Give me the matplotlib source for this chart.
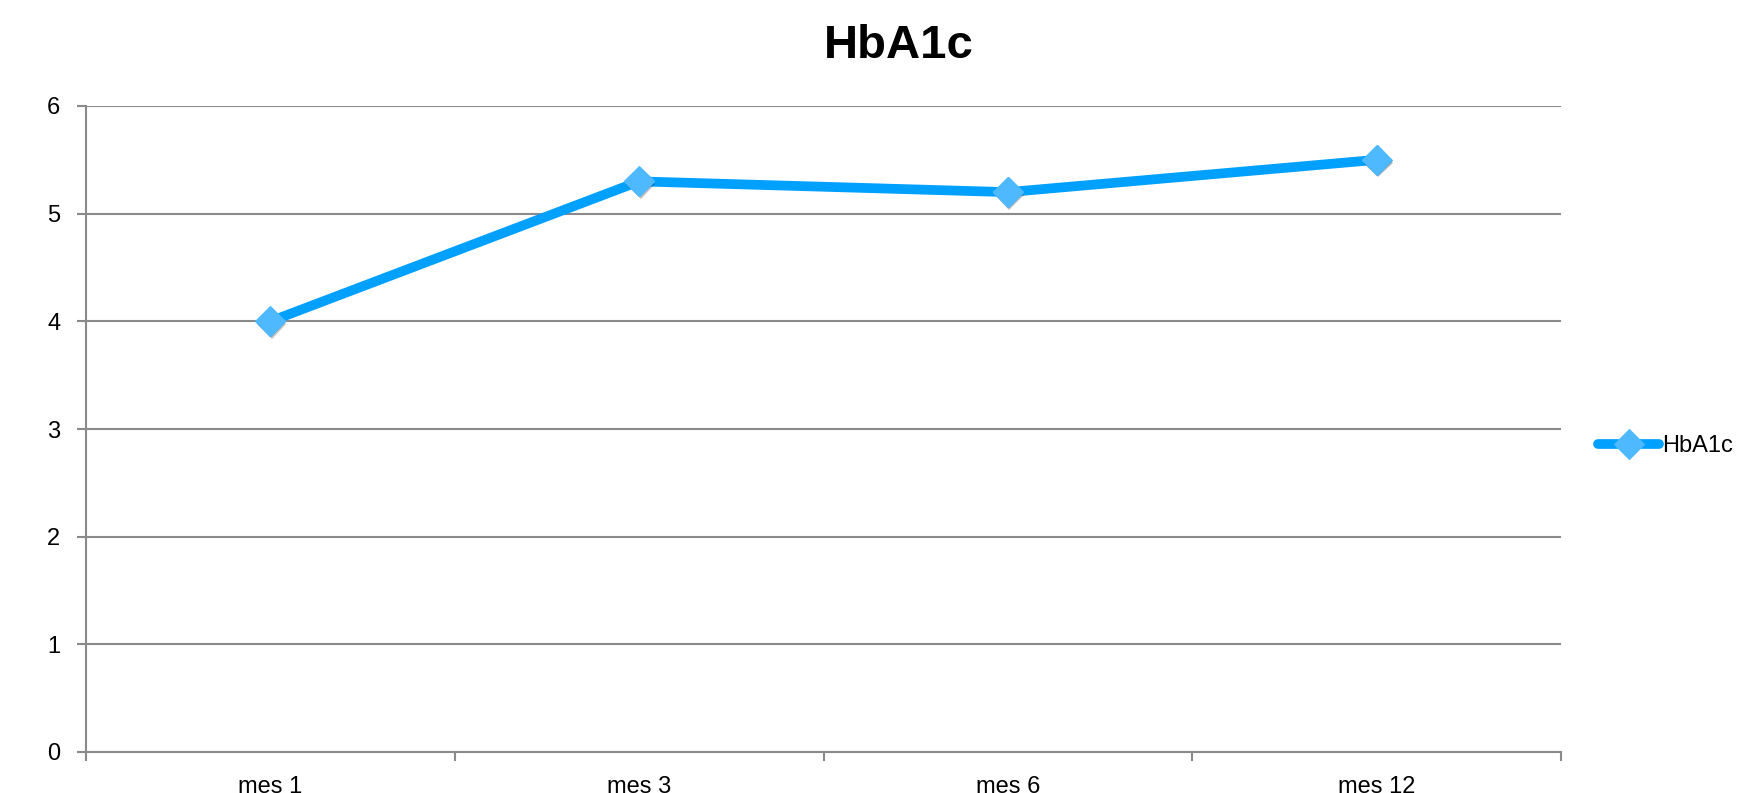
import matplotlib
matplotlib.use("Agg")
import matplotlib.pyplot as plt
import matplotlib.patheffects as pe
from matplotlib.ticker import FixedLocator

categories = ["mes 1", "mes 3", "mes 6", "mes 12"]
hba1c = [4.0, 5.3, 5.2, 5.5]
series_name = "HbA1c"
title = "HbA1c"
yticks = [0, 1, 2, 3, 4, 5, 6]

plt.rcParams['font.family'] = ['Liberation Sans', 'DejaVu Sans']

W, H = 1746, 793
fig = plt.figure(figsize=(W / 100, H / 100), dpi=100)
ax = fig.add_axes([86 / W, 1 - 752 / H, (1561 - 86) / W, (752 - 106) / H])

grid_c = "#8a8a8a"
line_c = "#00a0ff"
marker_c = "#4fb9ff"

x = list(range(len(categories)))
ax.plot(x, hba1c, color=line_c, lw=7, solid_capstyle='round', solid_joinstyle='round',
        marker='D', markersize=15, markerfacecolor=marker_c, markeredgecolor=marker_c,
        markeredgewidth=0.8, label=series_name, zorder=3)
# marker shadow
ax.plot(x, hba1c, ls='none', marker='D', markersize=15, markerfacecolor=marker_c,
        markeredgecolor=marker_c, zorder=4,
        path_effects=[pe.SimplePatchShadow(offset=(1, -2), alpha=0.25, shadow_rgbFace='black'), pe.Normal()])

ax.set_xlim(-0.5, len(categories) - 0.5)
ax.set_ylim(0, 6)
ax.set_yticks(yticks)
ax.set_yticklabels([str(v) for v in yticks])
ax.set_xticks(x)
ax.set_xticklabels(categories)
ax.xaxis.set_minor_locator(FixedLocator([i - 0.5 for i in range(len(categories) + 1)]))

ax.grid(axis='y', color=grid_c, lw=1.5)
ax.set_axisbelow(True)
for s in ['top', 'right']:
    ax.spines[s].set_visible(False)
for s in ['left', 'bottom']:
    ax.spines[s].set_color(grid_c)
    ax.spines[s].set_linewidth(1.5)

ax.tick_params(axis='y', which='major', length=6.5, width=1.5, color=grid_c, pad=12, labelsize=17)
ax.tick_params(axis='x', which='major', length=0, pad=17, labelsize=17)
ax.tick_params(axis='x', which='minor', length=6.5, width=1.5, color=grid_c)

fig.text(899 / W, 1 - 46 / H, title, ha='center', va='center', fontsize=34, fontweight='bold')

leg = ax.legend(loc='center left', bbox_to_anchor=(1598 / W, 1 - 446 / H), bbox_transform=fig.transFigure,
                frameon=False, fontsize=17, handlelength=2.6, handletextpad=0.1, borderpad=0, borderaxespad=0)

fig.savefig("out.png", dpi=100)
